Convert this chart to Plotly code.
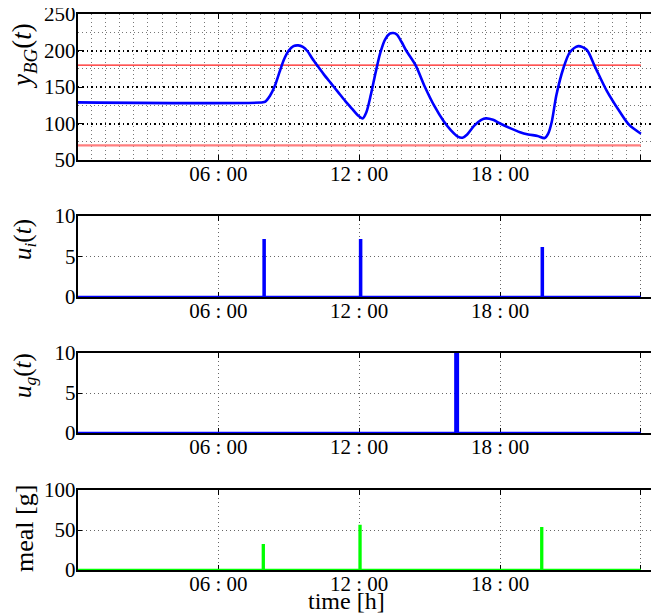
import plotly.graph_objects as go

# ---------------- data ----------------
bg_t = [0, 7.9, 8.0, 8.2, 8.4, 8.6, 8.8, 9.0, 9.2, 9.4, 9.6, 9.8, 10.0, 10.2, 10.5, 10.8,
        11.1, 11.4, 11.7, 11.95, 12.15, 12.3, 12.5, 12.7, 12.9, 13.1, 13.3, 13.45, 13.6,
        13.8, 14.0, 14.4, 14.8, 15.2, 15.6, 15.9, 16.2, 16.4, 16.6, 16.9, 17.2, 17.4,
        17.7, 18.0, 18.4, 18.85, 19.2, 19.6, 19.9, 20.05, 20.2, 20.4, 20.7, 20.98, 21.33,
        21.69, 22.04, 22.54, 23.1, 23.5, 24.0]
bg_v = [129, 129, 130, 138, 151, 170, 188, 200, 206, 207, 205, 199, 189, 180, 167, 155,
        143, 131, 120, 111, 107, 115, 140, 170, 197, 215, 223, 224, 222,
        212, 200, 180, 150, 124, 103, 91, 82, 80.5, 85, 97, 105, 107,
        105, 100, 94, 88, 85, 83, 80, 86, 102, 139, 176, 198, 206,
        201, 178, 145, 116, 98, 86]
bg_upper = 180
bg_lower = 70

ins_t = [7.93, 12.04, 19.78]
ins_u = [7, 7, 6]
glu_t = [16.1]
glu_u = [10]
meal_t = [7.9, 12.02, 19.76]
meal_g = [31, 55, 52]
t_end = 24

xtick_vals = [6, 12, 18, 24]
xtick_text = ["06 : 00", "12 : 00", "18 : 00", " "]


def pulses(times, amounts, width, end):
    xs, ys = [0], [0]
    for t, a in zip(times, amounts):
        xs += [t, t, t + width, t + width]
        ys += [0, a, a, 0]
    xs.append(end)
    ys.append(0)
    return xs, ys


FONT = "Liberation Serif"
OFF = 8  # page body margin
W, H = 659 - OFF, 615 - OFF
BLUE = "#0000ff"

fig = go.Figure()

# panel 1
fig.add_trace(go.Scatter(x=[0, t_end], y=[bg_upper, bg_upper], mode="lines",
                         line=dict(color="#ff1a1a", width=1.3), xaxis="x", yaxis="y"))
fig.add_trace(go.Scatter(x=[0, t_end], y=[bg_lower, bg_lower], mode="lines",
                         line=dict(color="#ff7f7f", width=2.2), xaxis="x", yaxis="y"))
fig.add_trace(go.Scatter(x=bg_t, y=bg_v, mode="lines", line_shape="spline",
                         line=dict(color=BLUE, width=2.6, smoothing=0.8), xaxis="x", yaxis="y"))

# panel 2
xi, yi = pulses(ins_t, ins_u, 0.04, t_end)
fig.add_trace(go.Scatter(x=xi, y=yi, mode="lines", line=dict(color=BLUE, width=2.6),
                         xaxis="x2", yaxis="y2"))
# panel 3
xg, yg = pulses(glu_t, glu_u, 0.1, t_end)
fig.add_trace(go.Scatter(x=xg, y=yg, mode="lines", line=dict(color=BLUE, width=2.6),
                         xaxis="x3", yaxis="y3"))
# panel 4
xm, ym = pulses(meal_t, meal_g, 0.03, t_end)
fig.add_trace(go.Scatter(x=xm, y=ym, mode="lines", line=dict(color="#00ff00", width=2.6),
                         xaxis="x4", yaxis="y4"))

x0 = (77.5 - OFF) / W
doms = [(14, 160), (216, 297), (353, 433), (490, 570)]
ydom = [[1 - (b - OFF) / H, 1 - (t - OFF) / H] for t, b in doms]
tickfont = dict(family=FONT, size=21, color="black")
dotgrey = "1px,3px"

common_x = dict(range=[0, 24.77], domain=[x0, 1], tickmode="array", tickvals=xtick_vals,
                ticktext=xtick_text, ticks="inside", ticklen=5, tickwidth=1, tickcolor="black",
                showline=True, linecolor="black", linewidth=1.5, mirror="ticks",
                tickfont=tickfont, zeroline=False, showgrid=True, gridcolor="#666666",
                griddash=dotgrey, gridwidth=1, automargin=False, ticklabelstandoff=-6)
common_y = dict(ticks="inside", ticklen=5, tickwidth=1, tickcolor="black", showline=True,
                linecolor="black", linewidth=1.5, mirror=False, tickfont=tickfont,
                zeroline=False, automargin=False, ticklabelstandoff=-4,
                ticklabeloverflow="allow")

layout = dict(width=W, height=H, margin=dict(l=0, r=0, t=0, b=0), showlegend=False,
              plot_bgcolor="white", paper_bgcolor="white")

layout["xaxis"] = dict(common_x, anchor="y",
                       minor=dict(dtick=0.6, tick0=0, showgrid=True, gridcolor="#777777",
                                  griddash=dotgrey, gridwidth=1, ticks=""))
layout["yaxis"] = dict(common_y, domain=ydom[0], anchor="x", range=[50, 250],
                       tickmode="linear", tick0=0, dtick=50, showgrid=True,
                       gridcolor="black", gridwidth=1.6, griddash="1.5px,3px",
                       minor=dict(dtick=25, tick0=0, showgrid=True, gridcolor="#777777",
                                  griddash=dotgrey, gridwidth=1, ticks=""))
for i, (rng, dt) in enumerate([([0, 10], 5), ([0, 10], 5), ([0, 100], 50)], start=2):
    layout[f"xaxis{i}"] = dict(common_x, anchor=f"y{i}", layer="below traces")
    layout[f"yaxis{i}"] = dict(common_y, domain=ydom[i - 1], anchor=f"x{i}", range=rng,
                               tickmode="linear", tick0=0, dtick=dt, showgrid=True,
                               gridcolor="#666666", griddash=dotgrey, gridwidth=1)

titles = ["<i>y</i><sub><i>BG</i></sub>(<i>t</i>)",
          "<i>u</i><sub><i>i</i></sub>(<i>t</i>)",
          "<i>u</i><sub><i>g</i></sub>(<i>t</i>)",
          "meal [g]"]
title_y = [56, 240, 376, 529]
title_size = [27, 25, 25, 26]
ann = []
for txt, yy, sz in zip(titles, title_y, title_size):
    ann.append(dict(text=txt, x=(24 - OFF) / W, y=1 - (yy - OFF) / H, xref="paper",
                    yref="paper", xanchor="center", yanchor="middle", textangle=-90,
                    showarrow=False, font=dict(family=FONT, size=sz, color="black")))
ann.append(dict(text="time [h]", x=(346 - OFF) / W, y=1 - (601 - OFF) / H, xref="paper",
                yref="paper", xanchor="center", yanchor="middle", showarrow=False,
                font=dict(family=FONT, size=24, color="black")))
layout["annotations"] = ann

fig.update_layout(**layout)
fig.write_html("out.html")
